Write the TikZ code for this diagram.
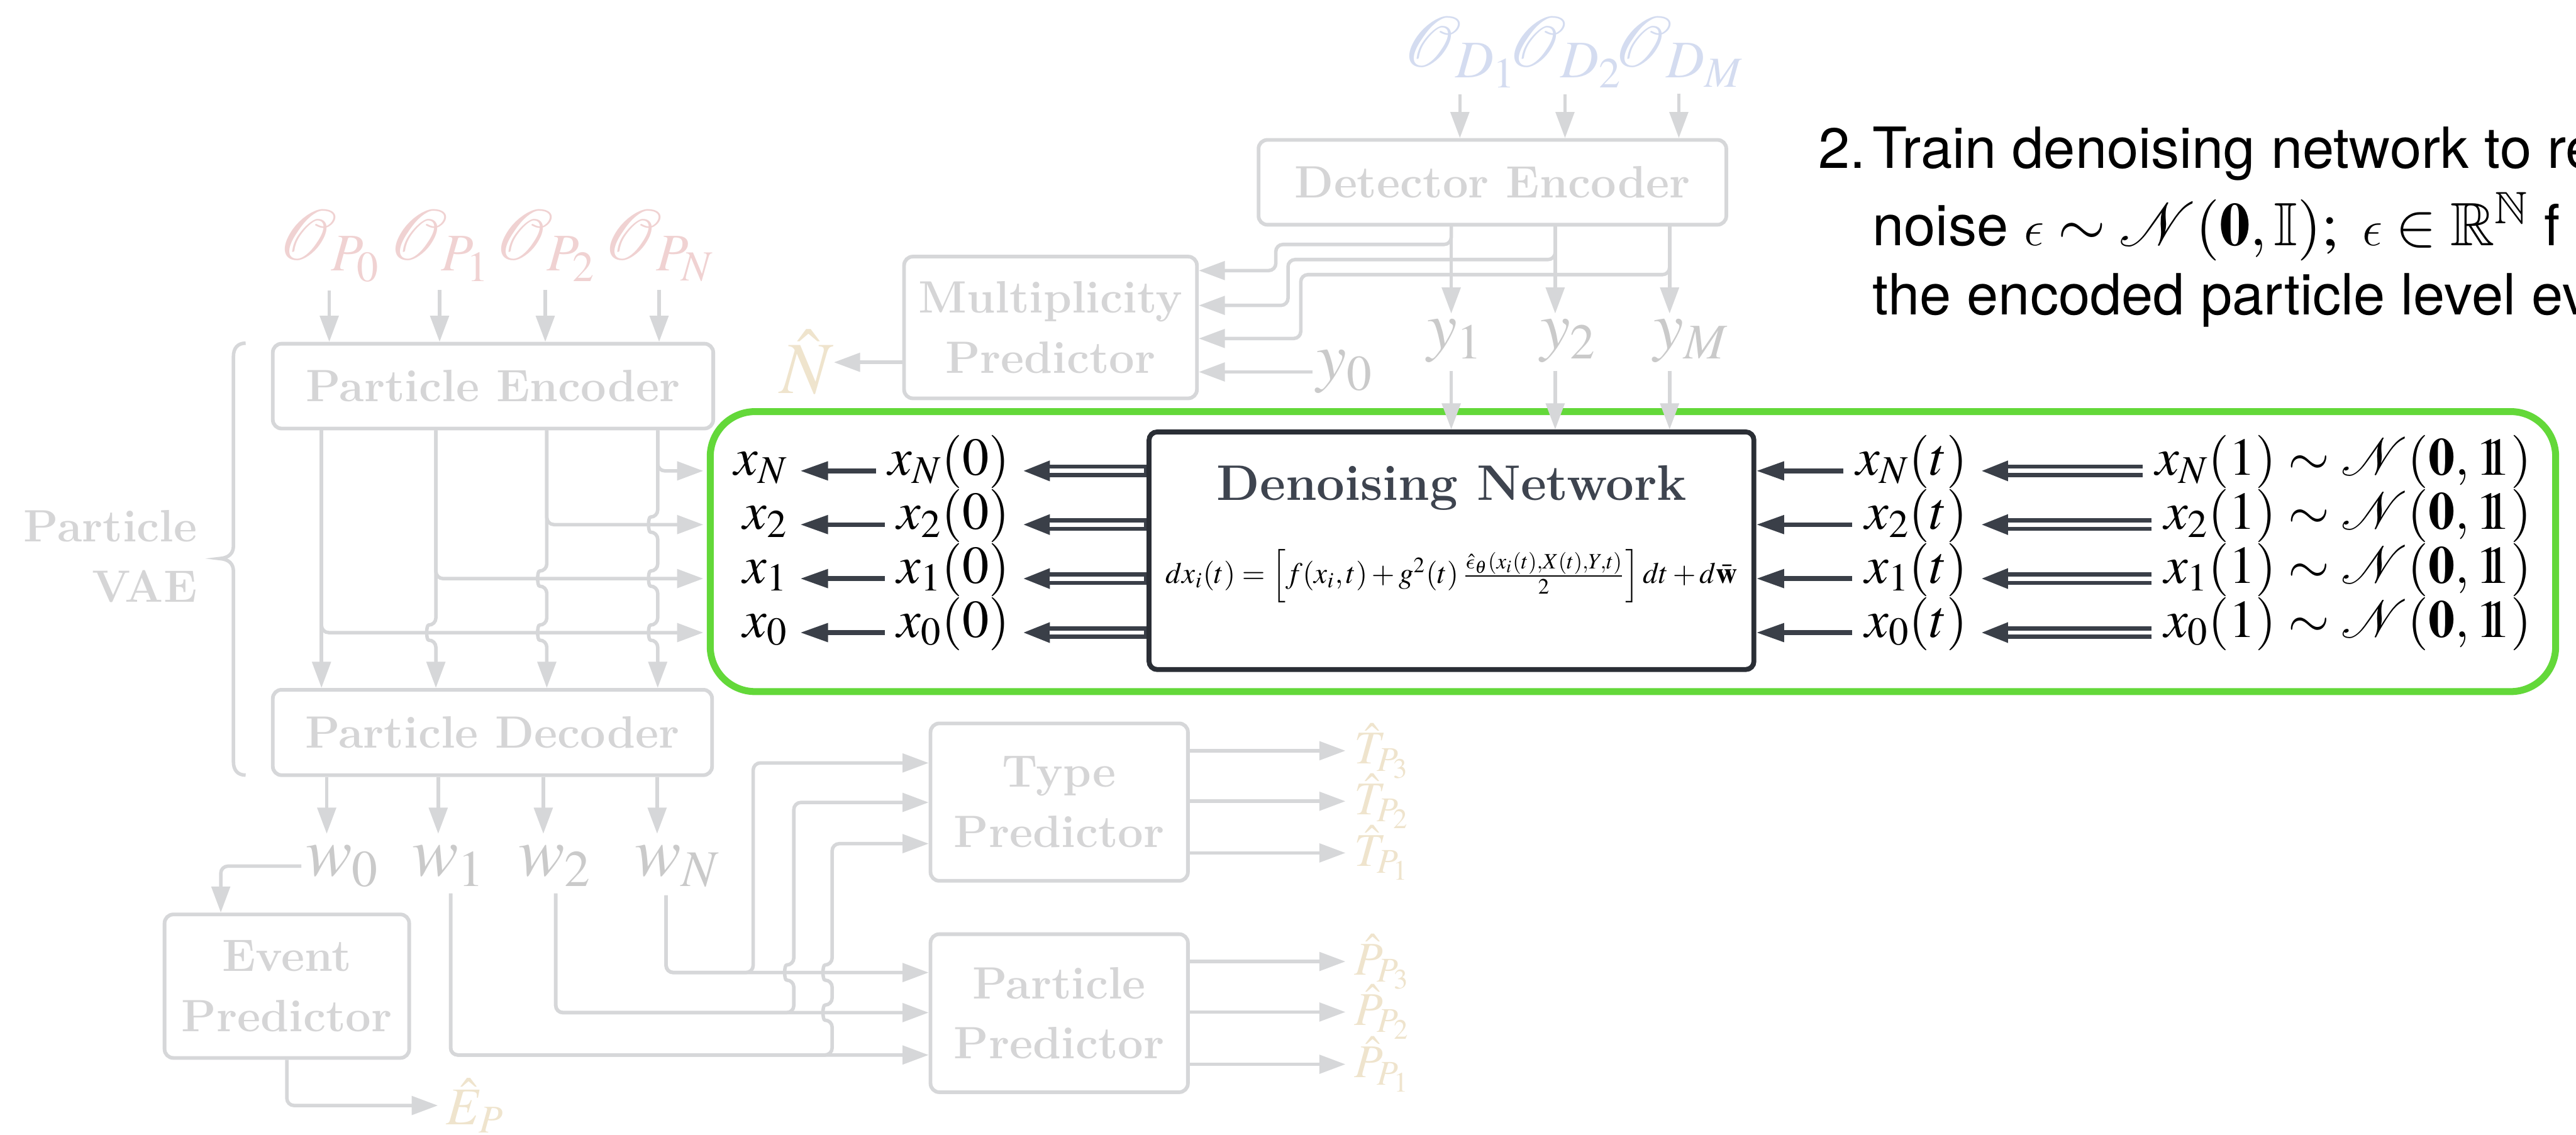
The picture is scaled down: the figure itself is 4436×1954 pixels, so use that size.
\documentclass[tikz,border=0pt]{standalone}
\usepackage{mathptmx}
\usepackage{amssymb}
\usepackage{graphicx}
\usepackage[no-math]{fontspec}
\renewcommand{\rmdefault}{lmr}
\renewcommand{\sfdefault}{lmss}
\renewcommand{\ttdefault}{lmtt}
\newfontfamily\helv{TeX Gyre Heros}
\usetikzlibrary{arrows.meta,calc}
% identity symbol drawn as a doubled one
\newcommand{\idone}{\mathrm{1}\mkern-6mu\mathrm{1}}
% lunate epsilon taken from the Latin Modern math italic
\DeclareSymbolFont{cmlet}{OML}{lmm}{m}{it}
\DeclareMathSymbol{\lunate}{\mathord}{cmlet}{"0F}

\definecolor{glinec}{HTML}{D6D7D9}
\definecolor{gtextc}{HTML}{D5D5D6}
\definecolor{glabc}{HTML}{CACACA}
\definecolor{pinkc}{HTML}{F0D2D2}
\definecolor{bluec}{HTML}{D4DCF0}
\definecolor{beigec}{HTML}{EFE4CD}
\definecolor{grnc}{HTML}{63D839}
\definecolor{dkc}{HTML}{3A3F48}
\definecolor{dkboxc}{HTML}{2A2E35}
\definecolor{dntextc}{HTML}{3E444F}

\tikzset{
  gline/.style={draw=glinec, line width=1.7pt, rounded corners=3.5pt},
  garr/.style={gline, -{Triangle[length=12.8pt,width=9pt]}},
  gbox/.style={draw=glinec, line width=1.8pt, rounded corners=4.3pt, fill=white,
    text=gtextc, font=\bfseries\fontsize{22.2}{29.5}\selectfont, align=center, inner sep=0pt},
  gcap/.style={text=gtextc, font=\bfseries\fontsize{22.2}{29.5}\selectfont, inner sep=0pt},
  glab/.style={text=glabc, font=\fontsize{34}{40}\selectfont, inner sep=0pt},
  ylab/.style={text=glabc, font=\fontsize{33}{40}\selectfont, inner sep=0pt},
  olab/.style={font=\fontsize{35}{40}\selectfont, inner sep=0pt, anchor=base},
  hatlab/.style={text=beigec, font=\fontsize{23}{27}\selectfont, inner xsep=4pt, inner ysep=0pt, anchor=west},
  darr/.style={draw=dkc, line width=2.3pt, -{Triangle[length=13.6pt,width=8.8pt]}},
  dbl/.style={draw=dkc, line width=6.3pt, -{Triangle[length=13.6pt,width=9pt]},
    postaction={draw=white, line width=2.1pt, arrows=-, shorten >=13.6pt, shorten <=#1}},
  dbl/.default=1.3pt,
  dnbox/.style={draw=dkboxc, line width=2.4pt, rounded corners=4pt, fill=white},
  stage/.style={draw=grnc, line width=3.4pt, rounded corners=22pt},
  mlab/.style={font=\fontsize{26}{31}\selectfont, inner xsep=6pt, inner ysep=0pt, anchor=mid east},
  helvtext/.style={font=\helv\fontsize{27.8}{33}\selectfont, inner sep=0pt, anchor=base west},
  hopdn/.style={to path={-- ($(\tikztotarget)+(0,-13)$) .. controls +(-17,0) and +(-17,0) .. ($(\tikztotarget)+(0,13)$)}},
  hopup/.style={to path={-- ($(\tikztotarget)+(0,13)$) .. controls +(-17,0) and +(-17,0) .. ($(\tikztotarget)+(0,-13)$)}}
}

\begin{document}
\begin{tikzpicture}[x=0.01cm,y=-0.01cm]
\clip (0,0) rectangle (4436,1954);
\fill[white] (0,0) rectangle (4436,1954);

% ---------- diffusion stage frame ----------
\node[stage, minimum width=31.76cm, minimum height=4.82cm] (stage) at (2812,950) {};

% denoising network
\node[dnbox, minimum width=10.41cm, minimum height=4.09cm] (dn) at (2499.5,948.5) {};
\node[anchor=base, text=dntextc, font=\bfseries\fontsize{24.5}{29}\selectfont, inner sep=0pt] (dntitle) at (2500,862) {Denoising Network};
\node[inner sep=0pt] (sde) at (2500,992) {\resizebox{280pt}{!}{$dx_i(t) = \left[ f(x_i, t) + g^2(t)\,\frac{\hat{\lunate}_\theta(x_i(t),X(t),Y,t)}{2} \right] dt + d\bar{\mathbf{w}}$}};

% latent variables, left side
\node[mlab] (xoN) at (1378,811) {$x_N$};
\node[mlab] (xo2) at (1378,903.5) {$x_2$};
\node[mlab] (xo1) at (1378,996.5) {$x_1$};
\node[mlab] (xo0) at (1378,1089.5) {$x_0$};
\node[mlab] (xzN) at (1760,811) {$x_N(0)$};
\node[mlab] (xz2) at (1760,903.5) {$x_2(0)$};
\node[mlab] (xz1) at (1760,996.5) {$x_1(0)$};
\node[mlab] (xz0) at (1760,1089.5) {$x_0(0)$};

% noisy variables, right side
\node[mlab] (xtN) at (3410,811) {$x_N(t)$};
\node[mlab] (xt2) at (3410,903.5) {$x_2(t)$};
\node[mlab] (xt1) at (3410,996.5) {$x_1(t)$};
\node[mlab] (xt0) at (3410,1089.5) {$x_0(t)$};
\node[mlab] (xeN) at (4381,811) {$x_N(1) \sim \mathcal{N}(\mathbf{0},\idone)$};
\node[mlab] (xe2) at (4381,903.5) {$x_2(1) \sim \mathcal{N}(\mathbf{0},\idone)$};
\node[mlab] (xe1) at (4381,996.5) {$x_1(1) \sim \mathcal{N}(\mathbf{0},\idone)$};
\node[mlab] (xe0) at (4381,1089.5) {$x_0(1) \sim \mathcal{N}(\mathbf{0},\idone)$};

\foreach \k in {N,2,1,0} {
  \draw[darr] (xz\k.mid west) -- (xo\k.mid east);
  \draw[dbl] (dn.west |- xz\k.mid east) -- (xz\k.mid east);
  \draw[darr] (xt\k.mid west) -- (dn.east |- xt\k.mid west);
  \draw[dbl=0pt] (xe\k.mid west) -- (xt\k.mid east);
}

% ---------- particle VAE ----------
\node[gbox, minimum width=7.58cm, minimum height=1.46cm] (penc) at (849,665) {Particle Encoder};
\node[gbox, minimum width=7.56cm, minimum height=1.47cm] (pdec) at (848,1261.5) {Particle Decoder};
\node[gcap, anchor=east, align=right] (vae) at (340,958) {Particle\\VAE};
\draw[gline, rounded corners=0pt] (423,591) .. controls (409,591) and (402,600) .. (402,614)
  -- (402,940) .. controls (402,953) and (394,961) .. (378,962)
  .. controls (394,963) and (402,971) .. (402,984)
  -- (402,1312) .. controls (402,1326) and (409,1335) .. (423,1335);

% particle observables
\node[olab, text=pinkc] (op0) at (567,448) {$\mathcal{O}_{P_0}$};
\node[olab, text=pinkc] (op1) at (757,448) {$\mathcal{O}_{P_1}$};
\node[olab, text=pinkc] (op2) at (939,448) {$\mathcal{O}_{P_2}$};
\node[olab, text=pinkc] (opN) at (1135,448) {$\mathcal{O}_{P_N}$};
\foreach \o in {op0,op1,op2,opN}
  \draw[garr, shorten <=4pt] (\o.south) -- (\o.south |- penc.north);

% encoder outputs to decoder and to the latent rows
\coordinate (e0) at ($(penc.south west)+(87,0)$);
\coordinate (e1) at ($(penc.south west)+(284,0)$);
\coordinate (e2) at ($(penc.south west)+(475,0)$);
\coordinate (e3) at ($(penc.south west)+(666,0)$);
\draw[garr, shorten >=1.7pt] (e3) |- (stage.west |- xoN.mid east);
\draw[garr, shorten >=1.7pt] (e2) |- (stage.west |- xo2.mid east);
\draw[garr, shorten >=1.7pt] (e1) |- (stage.west |- xo1.mid east);
\draw[garr, shorten >=1.7pt] (e0) |- (stage.west |- xo0.mid east);
\draw[garr] (e0) -- (e0 |- pdec.north);
\draw[garr] (e1) to[hopdn] (e1 |- xo0.mid east) -- (e1 |- pdec.north);
\draw[garr] (e2) to[hopdn] (e2 |- xo1.mid east) to[hopdn] (e2 |- xo0.mid east) -- (e2 |- pdec.north);
\draw[garr] (e3) to[hopdn] (e3 |- xo2.mid east) to[hopdn] (e3 |- xo1.mid east) to[hopdn] (e3 |- xo0.mid east) -- (e3 |- pdec.north);

% decoder outputs
\node[glab, anchor=base west] (w0) at (526,1508) {$w_0$};
\node[glab, anchor=base west] (w1) at (709,1508) {$w_1$};
\node[glab, anchor=base west] (w2) at (892,1508) {$w_2$};
\node[glab, anchor=base west] (wN) at (1093,1508) {$w_N$};
\coordinate (d0) at ($(pdec.south west)+(96,0)$);
\coordinate (d1) at ($(pdec.south west)+(288,0)$);
\coordinate (d2) at ($(pdec.south west)+(469,0)$);
\coordinate (d3) at ($(pdec.south west)+(665,0)$);
\draw[garr, shorten >=5.5pt] (d0) -- (d0 |- w0.north);
\draw[garr, shorten >=5.5pt] (d1) -- (d1 |- w1.north);
\draw[garr, shorten >=5.5pt] (d2) -- (d2 |- w2.north);
\draw[garr, shorten >=5.5pt] (d3) -- (d3 |- wN.north);

% ---------- predictors ----------
\node[gbox, minimum width=4.21cm, minimum height=2.47cm] (evt) at (494,1698.5) {Event\\Predictor};
\node[gbox, minimum width=4.43cm, minimum height=2.71cm] (typ) at (1824,1381.5) {Type\\Predictor};
\node[gbox, minimum width=4.43cm, minimum height=2.72cm] (ppr) at (1824,1745) {Particle\\Predictor};

\coordinate (evin) at ($(evt.north west)+(100,0)$);
\draw[garr, shorten <=2pt] (w0.west) -| (evin);
\node[hatlab, font=\fontsize{26}{30}\selectfont] (ep) at (754,1904) {$\hat{E}_P$};
\draw[garr] (evt.south) |- (ep.west);

\coordinate (w1s) at ($(w1.south west)+(67,12)$);
\coordinate (w2s) at ($(w2.south west)+(65,12)$);
\coordinate (wNs) at ($(wN.south west)+(54,14)$);
\coordinate (jA) at (1297,1675);
\coordinate (jB) at (1367,1744);
\coordinate (jC) at (1433,1817);
\coordinate (tin1) at (0,1314);
\coordinate (tin2) at (0,1382);
\coordinate (tin3) at (0,1453);
\draw[garr] (wNs) |- (ppr.west |- jA);
\draw[garr] (w2s) |- (ppr.west |- jB);
\draw[garr] (w1s) |- (ppr.west |- jC);
\draw[garr] (wNs) |- (jA) |- (typ.west |- tin1);
\draw[garr] (w2s) |- (jB) to[hopup] (jB |- jA) |- (typ.west |- tin2);
\draw[garr] (w1s) |- (jC) to[hopup] (jC |- jB) to[hopup] (jC |- jA) |- (typ.west |- tin3);

\node[hatlab] (tp3) at (2317,1293) {$\hat{T}_{P_3}$};
\node[hatlab] (tp2) at (2317,1380) {$\hat{T}_{P_2}$};
\node[hatlab] (tp1) at (2317,1469) {$\hat{T}_{P_1}$};
\node[hatlab] (pp3) at (2317,1656) {$\hat{P}_{P_3}$};
\node[hatlab] (pp2) at (2317,1743) {$\hat{P}_{P_2}$};
\node[hatlab] (pp1) at (2317,1833) {$\hat{P}_{P_1}$};
\foreach \t in {tp3,tp2,tp1} \draw[garr] (typ.east |- \t.west) -- (\t.west);
\foreach \p in {pp3,pp2,pp1} \draw[garr] (ppr.east |- \p.west) -- (\p.west);

% ---------- detector branch ----------
\node[gbox, minimum width=8.05cm, minimum height=1.46cm] (denc) at (2570,314) {Detector Encoder};
\node[gbox, minimum width=5.04cm, minimum height=2.44cm] (mult) at (1809,564) {Multiplicity\\Predictor};

\node[olab, text=bluec] (od1) at (2514,115) {$\mathcal{O}_{D_1}$};
\node[olab, text=bluec] (od2) at (2695,115) {$\mathcal{O}_{D_2}$};
\node[olab, text=bluec] (odM) at (2891,115) {$\mathcal{O}_{D_M}$};
\foreach \o in {od1,od2,odM}
  \draw[garr, shorten <=3pt] (\o.south) -- (\o.south |- denc.north);

\node[ylab, anchor=base west] (y1) at (2457,600) {$y_1$};
\node[ylab, anchor=base west] (y2) at (2652,600) {$y_2$};
\node[ylab, anchor=base west] (yM) at (2847,600) {$y_M$};
\node[ylab, anchor=base west] (y0) at (2267,654) {$y_0$};
\coordinate (dy1) at ($(denc.south west)+(335,0)$);
\coordinate (dy2) at ($(denc.south west)+(514,0)$);
\coordinate (dy3) at ($(denc.south west)+(711,0)$);
\draw[garr, shorten >=2.5pt] (dy1) -- (dy1 |- y1.north);
\draw[garr, shorten >=2.5pt] (dy2) -- (dy2 |- y2.north);
\draw[garr, shorten >=2.5pt] (dy3) -- (dy3 |- yM.north);
\draw[garr, shorten <=4pt] (dy1 |- y1.south) -- (dy1 |- dn.north);
\draw[garr, shorten <=4pt] (dy2 |- y2.south) -- (dy2 |- dn.north);
\draw[garr, shorten <=4pt] (dy3 |- yM.south) -- (dy3 |- dn.north);

\coordinate (k1) at (2197,421);
\coordinate (k2) at (2218,447);
\coordinate (k3) at (2240,473);
\coordinate (m1) at (0,466);
\coordinate (m2) at (0,526);
\coordinate (m3) at (0,583);
\draw[garr] (dy1) |- (k1) |- (mult.east |- m1);
\draw[garr] (dy2) |- (k2) |- (mult.east |- m2);
\draw[garr] (dy3) |- (k3) |- (mult.east |- m3);
\draw[garr, shorten <=2pt] (y0.west) -- (mult.east |- y0.west);

\node[text=beigec, font=\fontsize{36}{42}\selectfont, inner sep=0pt, anchor=east] (nh) at (1436,624) {$\hat{N}$};
\draw[garr] (mult.west |- nh.east) -- (nh.east);

% ---------- training step note ----------
\node[helvtext] (num) at (3131,290) {2.};
\node[helvtext] (l1) at (3224,290) {Train denoising network to re};
\node[helvtext] (l2) at (3224,423) {noise {\fontsize{30}{33}\selectfont$\lunate \sim \mathcal{N}(\mathbf{0},\mathbb{I});\ \lunate \in \mathbb{R}^{\mathbb{N}}$} f};
\node[helvtext] (l3) at (3224,542) {the encoded particle level ev};
\end{tikzpicture}
\end{document}
